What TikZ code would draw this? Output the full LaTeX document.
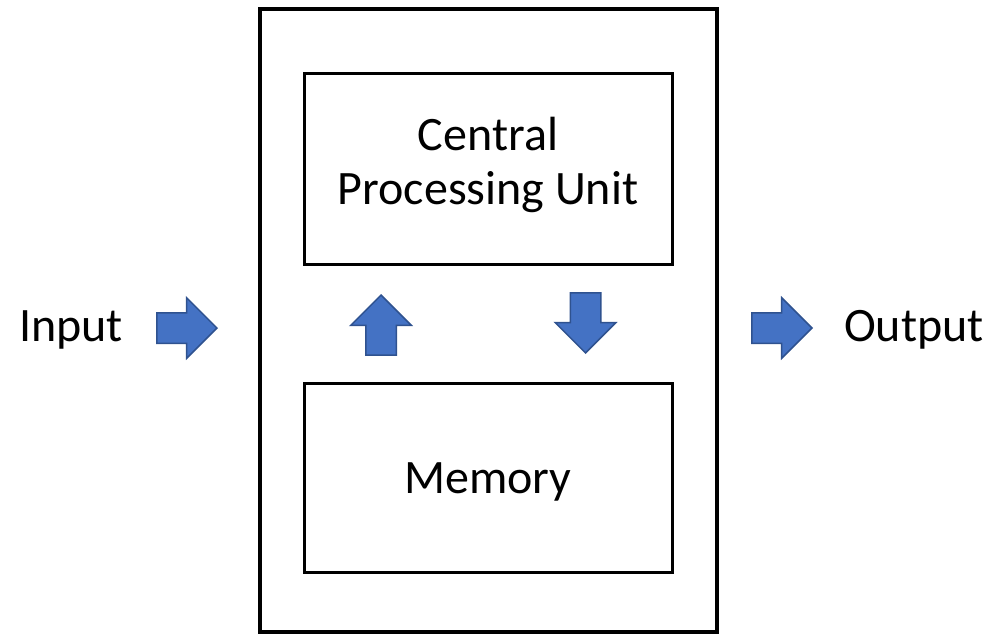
\documentclass[tikz,border=0pt]{standalone}
\usepackage{fontspec}
\setmainfont{Carlito}
\usetikzlibrary{shapes.arrows}

\definecolor{arrowblue}{HTML}{4472C4}
\definecolor{arrowedge}{HTML}{2F528F}

\tikzstyle{unitbox}=[rectangle, draw, line width=3pt, inner sep=0pt]
\tikzstyle{flow}=[single arrow, draw=arrowedge, fill=arrowblue, line width=1.5pt, inner sep=14.5pt, minimum height=60pt, single arrow head extend=15pt, single arrow tip angle=90]
\tikzstyle{label}=[font=\fontsize{48}{54}\selectfont, align=center]

\begin{document}
\begin{tikzpicture}[x=1pt,y=-1pt]
\useasboundingbox (0,0) rectangle (994,634);

\node[unitbox, line width=4pt, minimum width=457pt, minimum height=623pt] (computer) at (488.5,320.5) {};

\node[unitbox, minimum width=368pt, minimum height=190pt] (cpu) at (488,169) {};
\node[label] at (488,165) {Central\\Processing Unit};

\node[unitbox, minimum width=368pt, minimum height=189pt] (mem) at (488,477.5) {};
\node[label] at (488,482) {Memory};

\node[label] (in) at (71,330) {Input};
\node[flow, anchor=tip] (inarrow) at (218,328) {};

\node[flow, shape border rotate=90, anchor=tip] (uparrow) at (381,294) {};
\node[flow, shape border rotate=270, anchor=tip] (downarrow) at (585.5,354) {};

\node[flow, anchor=tip] (outarrow) at (813,328) {};
\node[label] (out) at (914,330) {Output};
\end{tikzpicture}
\end{document}
